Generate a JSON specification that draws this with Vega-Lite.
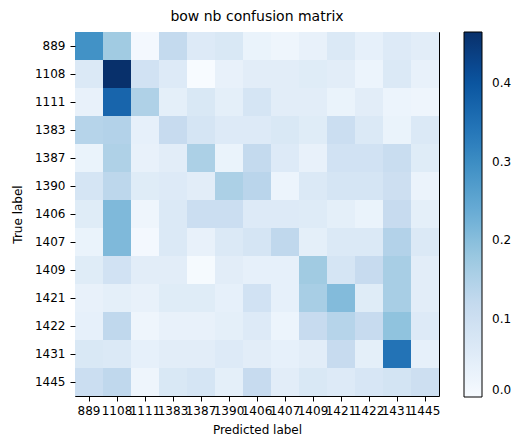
{
  "$schema": "https://vega.github.io/schema/vega-lite/v6.json",
  "width": 364,
  "height": 364,
  "autosize": {"type": "none"},
  "padding": {"left": 75, "top": 32, "right": 76, "bottom": 42},
  "background": "white",
  "title": {"text": "bow nb confusion matrix", "fontSize": 14, "fontWeight": "normal", "font": "DejaVu Sans", "color": "black", "offset": 8},
  "config": {
    "view": {"stroke": "black", "strokeWidth": 1},
    "axis": {"labelFont": "DejaVu Sans", "titleFont": "DejaVu Sans", "labelColor": "black", "titleColor": "black", "tickColor": "black", "domain": false, "grid": false, "labelFontSize": 12, "titleFontSize": 12, "titleFontWeight": "normal", "tickSize": 5}
  },
  "data": {"values": [
    {"t":"889","p":"889","v":0.29},{"t":"889","p":"1108","v":0.17},{"t":"889","p":"1111","v":0.01},{"t":"889","p":"1383","v":0.12},{"t":"889","p":"1387","v":0.06},{"t":"889","p":"1390","v":0.07},{"t":"889","p":"1406","v":0.03},{"t":"889","p":"1407","v":0.02},{"t":"889","p":"1409","v":0.035},{"t":"889","p":"1421","v":0.065},{"t":"889","p":"1422","v":0.04},{"t":"889","p":"1431","v":0.06},{"t":"889","p":"1445","v":0.05},
    {"t":"1108","p":"889","v":0.065},{"t":"1108","p":"1108","v":0.465},{"t":"1108","p":"1111","v":0.09},{"t":"1108","p":"1383","v":0.06},{"t":"1108","p":"1387","v":0.0},{"t":"1108","p":"1390","v":0.035},{"t":"1108","p":"1406","v":0.05},{"t":"1108","p":"1407","v":0.05},{"t":"1108","p":"1409","v":0.055},{"t":"1108","p":"1421","v":0.05},{"t":"1108","p":"1422","v":0.025},{"t":"1108","p":"1431","v":0.065},{"t":"1108","p":"1445","v":0.035},
    {"t":"1111","p":"889","v":0.035},{"t":"1111","p":"1108","v":0.37},{"t":"1111","p":"1111","v":0.15},{"t":"1111","p":"1383","v":0.045},{"t":"1111","p":"1387","v":0.07},{"t":"1111","p":"1390","v":0.045},{"t":"1111","p":"1406","v":0.08},{"t":"1111","p":"1407","v":0.05},{"t":"1111","p":"1409","v":0.05},{"t":"1111","p":"1421","v":0.03},{"t":"1111","p":"1422","v":0.05},{"t":"1111","p":"1431","v":0.025},{"t":"1111","p":"1445","v":0.02},
    {"t":"1383","p":"889","v":0.14},{"t":"1383","p":"1108","v":0.145},{"t":"1383","p":"1111","v":0.04},{"t":"1383","p":"1383","v":0.115},{"t":"1383","p":"1387","v":0.08},{"t":"1383","p":"1390","v":0.06},{"t":"1383","p":"1406","v":0.06},{"t":"1383","p":"1407","v":0.07},{"t":"1383","p":"1409","v":0.055},{"t":"1383","p":"1421","v":0.105},{"t":"1383","p":"1422","v":0.065},{"t":"1383","p":"1431","v":0.03},{"t":"1383","p":"1445","v":0.065},
    {"t":"1387","p":"889","v":0.03},{"t":"1387","p":"1108","v":0.15},{"t":"1387","p":"1111","v":0.035},{"t":"1387","p":"1383","v":0.05},{"t":"1387","p":"1387","v":0.155},{"t":"1387","p":"1390","v":0.03},{"t":"1387","p":"1406","v":0.12},{"t":"1387","p":"1407","v":0.06},{"t":"1387","p":"1409","v":0.035},{"t":"1387","p":"1421","v":0.09},{"t":"1387","p":"1422","v":0.09},{"t":"1387","p":"1431","v":0.11},{"t":"1387","p":"1445","v":0.055},
    {"t":"1390","p":"889","v":0.08},{"t":"1390","p":"1108","v":0.13},{"t":"1390","p":"1111","v":0.055},{"t":"1390","p":"1383","v":0.06},{"t":"1390","p":"1387","v":0.05},{"t":"1390","p":"1390","v":0.155},{"t":"1390","p":"1406","v":0.135},{"t":"1390","p":"1407","v":0.025},{"t":"1390","p":"1409","v":0.065},{"t":"1390","p":"1421","v":0.08},{"t":"1390","p":"1422","v":0.08},{"t":"1390","p":"1431","v":0.1},{"t":"1390","p":"1445","v":0.028},
    {"t":"1406","p":"889","v":0.055},{"t":"1406","p":"1108","v":0.21},{"t":"1406","p":"1111","v":0.02},{"t":"1406","p":"1383","v":0.065},{"t":"1406","p":"1387","v":0.105},{"t":"1406","p":"1390","v":0.105},{"t":"1406","p":"1406","v":0.06},{"t":"1406","p":"1407","v":0.06},{"t":"1406","p":"1409","v":0.058},{"t":"1406","p":"1421","v":0.045},{"t":"1406","p":"1422","v":0.03},{"t":"1406","p":"1431","v":0.115},{"t":"1406","p":"1445","v":0.045},
    {"t":"1407","p":"889","v":0.03},{"t":"1407","p":"1108","v":0.21},{"t":"1407","p":"1111","v":0.01},{"t":"1407","p":"1383","v":0.065},{"t":"1407","p":"1387","v":0.035},{"t":"1407","p":"1390","v":0.065},{"t":"1407","p":"1406","v":0.08},{"t":"1407","p":"1407","v":0.125},{"t":"1407","p":"1409","v":0.045},{"t":"1407","p":"1421","v":0.065},{"t":"1407","p":"1422","v":0.065},{"t":"1407","p":"1431","v":0.145},{"t":"1407","p":"1445","v":0.065},
    {"t":"1409","p":"889","v":0.055},{"t":"1409","p":"1108","v":0.09},{"t":"1409","p":"1111","v":0.05},{"t":"1409","p":"1383","v":0.05},{"t":"1409","p":"1387","v":0.005},{"t":"1409","p":"1390","v":0.05},{"t":"1409","p":"1406","v":0.04},{"t":"1409","p":"1407","v":0.04},{"t":"1409","p":"1409","v":0.17},{"t":"1409","p":"1421","v":0.08},{"t":"1409","p":"1422","v":0.115},{"t":"1409","p":"1431","v":0.16},{"t":"1409","p":"1445","v":0.05},
    {"t":"1421","p":"889","v":0.035},{"t":"1421","p":"1108","v":0.045},{"t":"1421","p":"1111","v":0.035},{"t":"1421","p":"1383","v":0.055},{"t":"1421","p":"1387","v":0.055},{"t":"1421","p":"1390","v":0.04},{"t":"1421","p":"1406","v":0.09},{"t":"1421","p":"1407","v":0.04},{"t":"1421","p":"1409","v":0.16},{"t":"1421","p":"1421","v":0.205},{"t":"1421","p":"1422","v":0.055},{"t":"1421","p":"1431","v":0.16},{"t":"1421","p":"1445","v":0.05},
    {"t":"1422","p":"889","v":0.04},{"t":"1422","p":"1108","v":0.125},{"t":"1422","p":"1111","v":0.02},{"t":"1422","p":"1383","v":0.035},{"t":"1422","p":"1387","v":0.035},{"t":"1422","p":"1390","v":0.045},{"t":"1422","p":"1406","v":0.06},{"t":"1422","p":"1407","v":0.025},{"t":"1422","p":"1409","v":0.115},{"t":"1422","p":"1421","v":0.14},{"t":"1422","p":"1422","v":0.115},{"t":"1422","p":"1431","v":0.19},{"t":"1422","p":"1445","v":0.06},
    {"t":"1431","p":"889","v":0.07},{"t":"1431","p":"1108","v":0.065},{"t":"1431","p":"1111","v":0.04},{"t":"1431","p":"1383","v":0.05},{"t":"1431","p":"1387","v":0.05},{"t":"1431","p":"1390","v":0.06},{"t":"1431","p":"1406","v":0.05},{"t":"1431","p":"1407","v":0.04},{"t":"1431","p":"1409","v":0.05},{"t":"1431","p":"1421","v":0.115},{"t":"1431","p":"1422","v":0.045},{"t":"1431","p":"1431","v":0.345},{"t":"1431","p":"1445","v":0.04},
    {"t":"1445","p":"889","v":0.105},{"t":"1445","p":"1108","v":0.125},{"t":"1445","p":"1111","v":0.02},{"t":"1445","p":"1383","v":0.07},{"t":"1445","p":"1387","v":0.08},{"t":"1445","p":"1390","v":0.045},{"t":"1445","p":"1406","v":0.115},{"t":"1445","p":"1407","v":0.05},{"t":"1445","p":"1409","v":0.07},{"t":"1445","p":"1421","v":0.06},{"t":"1445","p":"1422","v":0.075},{"t":"1445","p":"1431","v":0.085},{"t":"1445","p":"1445","v":0.1}
  ]},
  "mark": {"type": "rect"},
  "encoding": {
    "x": {"field": "p", "type": "nominal", "sort": ["889","1108","1111","1383","1387","1390","1406","1407","1409","1421","1422","1431","1445"],
      "scale": {"paddingInner": 0, "paddingOuter": 0},
      "axis": {"title": "Predicted label", "labelAngle": 0, "labelOverlap": false, "labelPadding": 4, "titlePadding": 8}},
    "y": {"field": "t", "type": "nominal", "sort": ["889","1108","1111","1383","1387","1390","1406","1407","1409","1421","1422","1431","1445"],
      "scale": {"paddingInner": 0, "paddingOuter": 0},
      "axis": {"title": "True label", "labelPadding": 5, "titlePadding": 10}},
    "color": {"field": "v", "type": "quantitative",
      "scale": {"type": "linear", "domain": [0, 0.058125, 0.11625, 0.174375, 0.2325, 0.290625, 0.34875, 0.406875, 0.465],
        "range": ["#f7fbff","#deebf7","#c6dbef","#9ecae1","#6baed6","#4292c6","#2171b5","#08519c","#08306b"]},
      "legend": {"title": null, "orient": "right", "offset": 25, "padding": 0, "direction": "vertical", "gradientLength": 365, "gradientThickness": 18,
        "gradientStrokeColor": "black", "gradientStrokeWidth": 1, "values": [0, 0.1, 0.2, 0.3, 0.4], "format": ".1f",
        "labelFont": "DejaVu Sans", "labelFontSize": 12, "labelColor": "black", "labelOffset": 10}}
  }
}
